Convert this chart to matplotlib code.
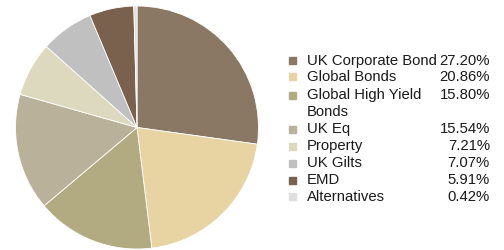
import matplotlib.pyplot as plt

labels = ["UK Corporate Bond", "Global Bonds", "Global High Yield\nBonds", "UK Eq",
          "Property", "UK Gilts", "EMD", "Alternatives"]
values = [27.20, 20.86, 15.80, 15.54, 7.21, 7.07, 5.91, 0.42]
colors = ["#8a7864", "#e8d4a2", "#b2aa80", "#b9b199", "#ddd9bf", "#c0c0c0", "#7a614d", "#dedede"]

plt.rcParams['font.family'] = ['Liberation Sans', 'DejaVu Sans']

fig = plt.figure(figsize=(5.04, 2.5), dpi=100)
ax = fig.add_axes([15/504, 1/250, 244/504, 243/250])
ax.pie(values, colors=colors, startangle=90, counterclock=False,
       wedgeprops=dict(edgecolor="white", linewidth=0.6))
ax.set_xlim(-1, 1)
ax.set_ylim(-1, 1)
ax.set_aspect("equal")

# legend drawn by hand
rows = [60.7, 76.7, 95, 129, 146, 163, 180, 196.7]
for lab, val, col, y in zip(labels, values, colors, rows):
    fy = 1 - y / 250
    fig.patches.append(plt.Rectangle((289/504, fy - 3.5/250), 7/504, 7/250,
                                     transform=fig.transFigure, color=col))
    lines = lab.split("\n")
    for i, ln in enumerate(lines):
        fig.text(307/504, fy - i * 16.7/250, ln, fontsize=10.7, va="center", color="#1a1a1a")
    fig.text(490/504, fy, f"{val:.2f}%", fontsize=10.7, va="center", ha="right", color="#1a1a1a")

fig.savefig("out.png", dpi=100)
